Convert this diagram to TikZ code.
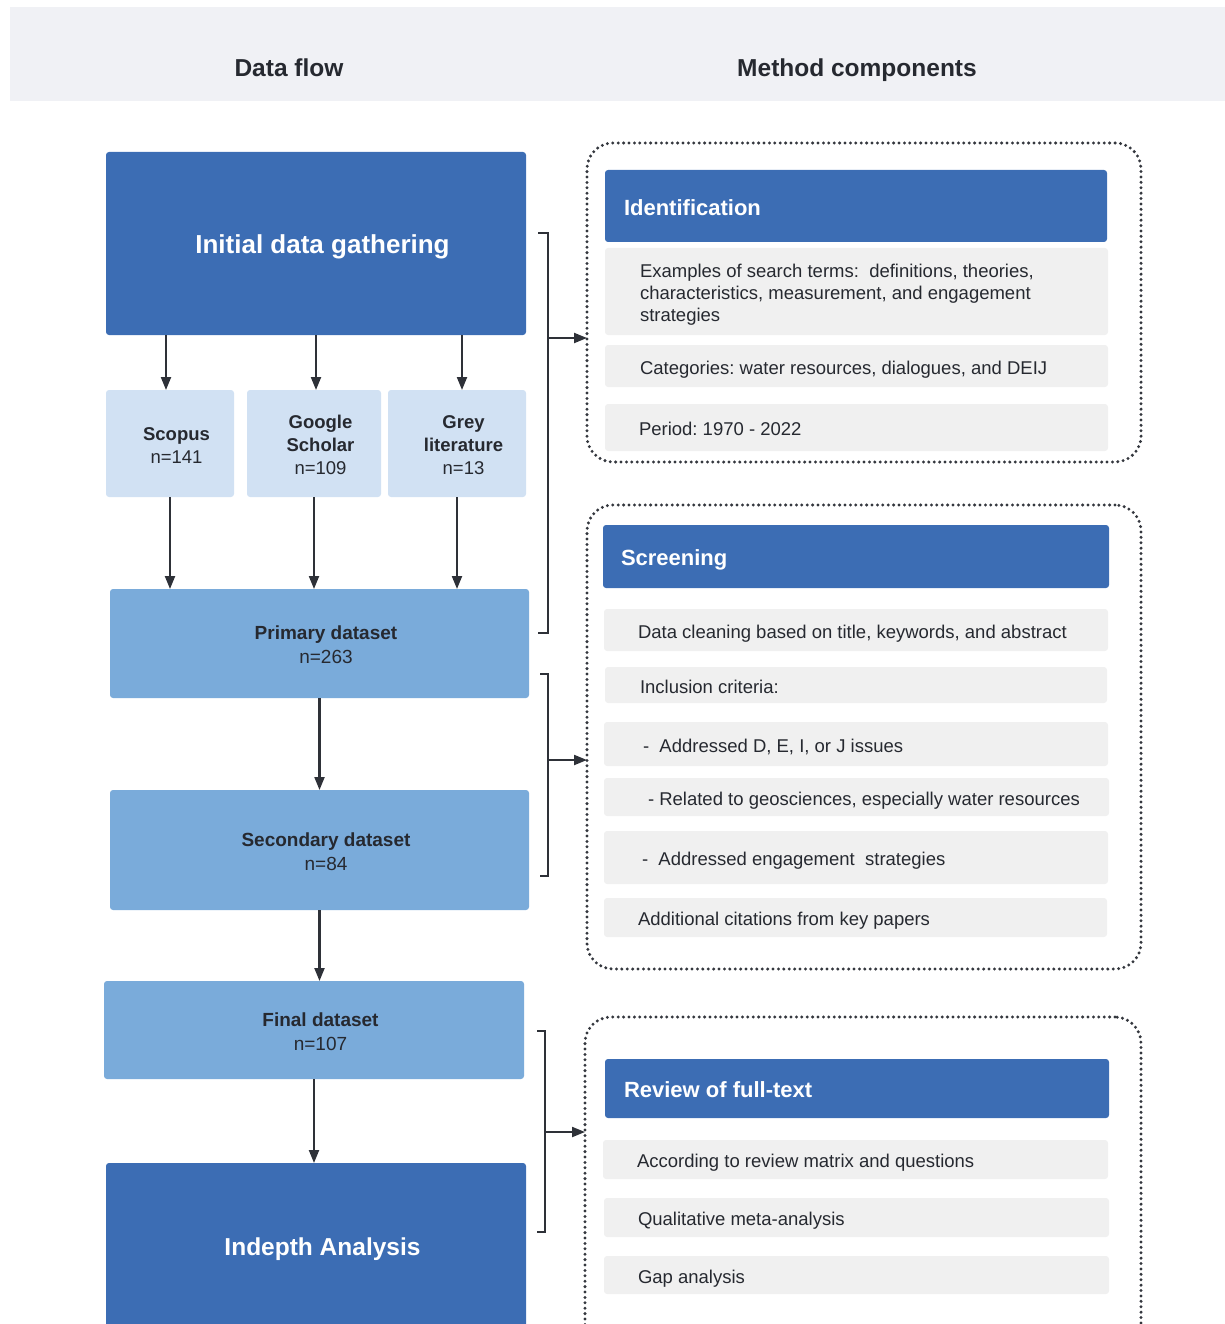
\documentclass[tikz,border=0pt]{standalone}
\usepackage{fontspec}
\setmainfont{Liberation Sans}
\usetikzlibrary{arrows.meta}
\definecolor{cDark}{HTML}{3C6DB4}
\definecolor{cMid}{HTML}{7AABDA}
\definecolor{cLight}{HTML}{D1E1F3}
\definecolor{cItem}{HTML}{F0F0F0}
\definecolor{cBand}{HTML}{F0F1F5}
\definecolor{cInk}{HTML}{262930}
\definecolor{cLine}{HTML}{2E3138}
\definecolor{cDot}{HTML}{34373E}
\newcommand\fsz[2]{\fontsize{#1}{#2}\selectfont}
% left-padded text block of a given total width (drawn 4pt lower than its box centre)
\newcommand\padl[3]{\makebox[#2pt][l]{\hspace*{#1pt}\raisebox{-4pt}[\height][\depth]{\begin{tabular}[c]{@{}l@{}}#3\end{tabular}}}}
% centred text block, nudged slightly right and down as in the reference
\newcommand\ctr[1]{\hspace*{13pt}\raisebox{-3.5pt}[\height][\depth]{\begin{tabular}[c]{@{}c@{}}#1\end{tabular}}}
\begin{document}
\frenchspacing
\begin{tikzpicture}[x=1pt,y=-1pt,
  every node/.style={inner sep=0pt, outer sep=0pt},
  blk/.style={anchor=north west, rounded corners=3pt},
  darkbox/.style={blk, fill=cDark, text=white, font=\bfseries\fsz{26}{31}},
  srcbox/.style={blk, fill=cLight, text=cInk, font=\fsz{18.5}{23}},
  midbox/.style={blk, fill=cMid, text=cInk, font=\fsz{19}{24}},
  hdrbox/.style={anchor=north west, rounded corners=3pt, fill=cDark, text=white, font=\bfseries\fsz{22}{26}},
  itembox/.style={anchor=north west, rounded corners=3pt, fill=cItem, text=cInk, font=\fsz{18.5}{22}},
  dotbox/.style={anchor=north west, draw=cDot, line width=3.3pt, line cap=round, dash pattern=on 0pt off 5.4pt, rounded corners=26pt},
  arr/.style={draw=cLine, line width=2.1pt, -{Triangle[length=13pt,width=10pt]}},
  brk/.style={draw=cLine, line width=1.8pt},
  coltitle/.style={font=\bfseries\fsz{24.5}{29}, text=cInk, anchor=base}
]
\useasboundingbox (0,0) rectangle (1225,1324);
\clip (0,0) rectangle (1225,1324);

% header band
\fill[cBand] (10,7) rectangle (1225,101);
\node[coltitle] (tflow) at (289,77) {Data flow};
\node[coltitle] (tmeth) at (857,77) {Method components};

% left column
\node[darkbox, minimum width=420pt, minimum height=183pt] (init) at (106,152) {\ctr{Initial data gathering}};
\node[srcbox, minimum width=128pt, minimum height=107pt] (scopus) at (106,390) {\ctr{\textbf{Scopus}\\n=141}};
\node[srcbox, minimum width=134pt, minimum height=107pt] (google) at (247,390) {\ctr{\textbf{Google}\\\textbf{Scholar}\\n=109}};
\node[srcbox, minimum width=138pt, minimum height=107pt] (grey) at (388,390) {\ctr{\textbf{Grey}\\\textbf{literature}\\n=13}};
\node[midbox, minimum width=419pt, minimum height=109pt] (primary) at (110,589) {\ctr{\textbf{Primary dataset}\\n=263}};
\node[midbox, minimum width=419pt, minimum height=120pt] (secondary) at (110,790) {\ctr{\textbf{Secondary dataset}\\n=84}};
\node[midbox, minimum width=420pt, minimum height=98pt] (final) at (104,981) {\ctr{\textbf{Final dataset}\\n=107}};
\node[darkbox, minimum width=420pt, minimum height=166pt, font=\bfseries\fsz{24.5}{29}] (indepth) at (106,1163) {\ctr{Indepth Analysis}};

% left arrows
\draw[arr] ([xshift=60pt]init.south west) -- ([xshift=60pt]scopus.north west);
\draw[arr] ([xshift=210pt]init.south west) -- ([xshift=69pt]google.north west);
\draw[arr] ([xshift=356pt]init.south west) -- ([xshift=74pt]grey.north west);
\draw[arr] ([xshift=64pt]scopus.south west) -- ([xshift=60pt]primary.north west);
\draw[arr] ([xshift=67pt]google.south west) -- ([xshift=204pt]primary.north west);
\draw[arr] ([xshift=69pt]grey.south west) -- ([xshift=347pt]primary.north west);
\draw[arr] (primary.south) -- (primary.south |- secondary.north);
\draw[arr] (secondary.south) -- (secondary.south |- final.north);
\draw[arr] (final.south) -- (final.south |- indepth.north);

% dotted component boxes
\node[dotbox, minimum width=554pt, minimum height=319pt] (box1) at (587,143) {};
\node[dotbox, minimum width=554pt, minimum height=464pt] (box2) at (587,505) {};
\node[dotbox, minimum width=556pt, minimum height=345pt] (box3) at (585,1017) {};

% brackets
\coordinate (b1a) at (538,233); \coordinate (b1b) at (538,633); \coordinate (b1m) at (548,338);
\coordinate (b2a) at (540,674); \coordinate (b2b) at (540,876); \coordinate (b2m) at (548,760);
\coordinate (b3a) at (537,1031); \coordinate (b3b) at (537,1232); \coordinate (b3m) at (545,1132);
\draw[brk] (b1a) -- (b1a -| b1m) -- (b1b -| b1m) -- (b1b);
\draw[brk] (b2a) -- (b2a -| b2m) -- (b2b -| b2m) -- (b2b);
\draw[brk] (b3a) -- (b3a -| b3m) -- (b3b -| b3m) -- (b3b);
\draw[arr] (b1m) -- (b1m -| box1.west);
\draw[arr] (b2m) -- (b2m -| box2.west);
\draw[arr] (b3m) -- (b3m -| box3.west);

% box 1 contents
\node[hdrbox, minimum height=72pt] (ident) at (605,170) {\padl{19}{502}{Identification}};
\node[itembox, minimum height=87pt] (terms) at (605,248) {\padl{35}{503}{Examples of search terms:~ definitions, theories,\\characteristics, measurement, and engagement\\strategies}};
\node[itembox, minimum height=42pt] (cats) at (605,345) {\padl{35}{503}{Categories: water resources, dialogues, and DEIJ}};
\node[itembox, minimum height=47pt] (period) at (605,404) {\padl{34}{503}{Period: 1970 - 2022}};

% box 2 contents
\node[hdrbox, minimum height=63pt] (screen) at (603,525) {\padl{18}{506}{Screening}};
\node[itembox, minimum height=42pt] (clean) at (604,609) {\padl{34}{504}{Data cleaning based on title, keywords, and abstract}};
\node[itembox, minimum height=36pt] (incl) at (605,667) {\padl{35}{502}{Inclusion criteria:}};
\node[itembox, minimum height=44pt] (dei) at (604,722) {\padl{39}{504}{-~ Addressed D, E, I, or J issues}};
\node[itembox, minimum height=38pt] (geo) at (604,778) {\padl{44}{505}{- Related to geosciences, especially water resources}};
\node[itembox, minimum height=53pt] (engage) at (604,831) {\padl{38}{504}{-~ Addressed engagement~ strategies}};
\node[itembox, minimum height=39pt] (cite) at (604,898) {\padl{34}{503}{Additional citations from key papers}};

% box 3 contents
\node[hdrbox, minimum height=59pt] (review) at (605,1059) {\padl{19}{504}{Review of full-text}};
\node[itembox, minimum height=39pt] (matrix) at (603,1140) {\padl{34}{505}{According to review matrix and questions}};
\node[itembox, minimum height=39pt] (meta) at (604,1198) {\padl{34}{505}{Qualitative meta-analysis}};
\node[itembox, minimum height=38pt] (gap) at (604,1256) {\padl{34}{505}{Gap analysis}};
\end{tikzpicture}
\end{document}
